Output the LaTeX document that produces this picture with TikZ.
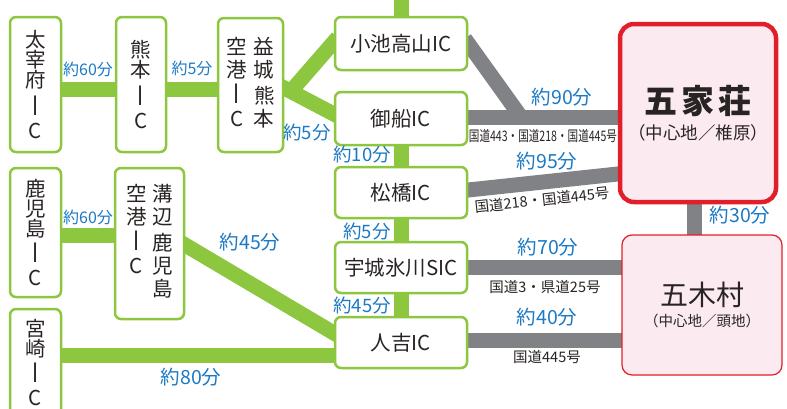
\documentclass[tikz,border=0pt]{standalone}
\usepackage{fontspec}
\usepackage{graphicx}
\setmainfont{Noto Sans CJK JP}
\usetikzlibrary{backgrounds}

\definecolor{icgreen}{RGB}{141,198,63}
\definecolor{roadgrey}{RGB}{128,130,133}
\definecolor{timeblue}{RGB}{28,121,196}
\definecolor{inktext}{RGB}{40,36,35}
\definecolor{destred}{RGB}{226,30,42}
\definecolor{destpink}{RGB}{252,234,241}

%% tall I for the vertical names
\newcommand{\tateI}{\scalebox{1}[1.3]{I}}

\tikzset{
  icbox/.style={draw=icgreen, line width=2.5pt, rounded corners=6pt, fill=white,
    text=inktext, inner sep=0pt, align=center, font=\fontsize{20.5}{20}\selectfont},
  greenroad/.style={icgreen, line width=15pt, shorten <=-6pt, shorten >=-6pt},
  greyroad/.style={roadgrey, line width=15pt, shorten <=-6pt, shorten >=-6pt},
  mins/.style={text=timeblue, inner sep=0pt, font=\fontsize{19.5}{21}\selectfont},
  minsmall/.style={mins, font=\fontsize{16}{18}\selectfont},
  minmid/.style={mins, font=\fontsize{18.5}{20}\selectfont},
  roadname/.style={text=inktext, inner sep=0pt, font=\fontsize{14.5}{16}\selectfont},
}

\begin{document}
\begin{tikzpicture}[x=1pt, y=-1pt]%% pixels, y down
    \useasboundingbox (0,0) rectangle (787,408);

        %% left hand IC boxes
        \node[icbox, minimum width=51pt, minimum height=135pt] (dazaifu) at (35.5,84.5)
            {太\\宰\\府\\[5pt]\tateI\\[3pt]C};
        \node[icbox, minimum width=50pt, minimum height=135pt] (kumamoto) at (141,84.5)
            {熊\\本\\[5pt]\tateI\\[3pt]C};
        \node[icbox, minimum width=65pt, minimum height=134pt] (kuko) at (250.5,85)
            {\begin{tabular}{@{}c@{\hspace{7pt}}c@{}}空&益\\港&城\\\tateI&熊\\C&本\end{tabular}};
        \node[icbox, minimum width=51pt, minimum height=129pt] (kagoshima) at (35.5,232.5)
            {鹿\\児\\島\\[4pt]\tateI\\[3pt]C};
        \node[icbox, minimum width=69pt, minimum height=151pt] (mizobe) at (149.5,243.5)
            {\begin{tabular}{@{}c@{\hspace{6pt}}c@{}}空&溝\\港&辺\\\tateI&鹿\\C&児\\&島\end{tabular}};
        \node[icbox, minimum width=51pt, minimum height=107pt] (miyazaki) at (35.5,362.5)
            {宮\\崎\\[4pt]\tateI\\[3pt]C};

        %% middle IC boxes
        \node[icbox, minimum width=132pt, minimum height=53pt] (koike) at (401,43.5) {小池高山IC};
        \node[icbox, minimum width=132pt, minimum height=53pt] (mifune) at (401,118.5) {御船IC};
        \node[icbox, minimum width=132pt, minimum height=51pt] (matsubase) at (401,192.5) {松橋IC};
        \node[icbox, minimum width=132pt, minimum height=51pt] (ukimihikawa) at (401,267.5) {宇城氷川SIC};
        \node[icbox, minimum width=132pt, minimum height=51pt] (hitoyoshi) at (401,342.5) {人吉IC};

        %% destinations
        \node[draw=destred, line width=4.5pt, fill=destpink, rounded corners=14pt,
              minimum width=156pt, minimum height=178pt, align=center, text=inktext] (gokasho) at (698,113)
            {{\fontsize{33}{36}\selectfont\bfseries\addfontfeature{LetterSpace=12}五家荘}\\[7pt]
             {\fontsize{17.5}{18}\selectfont （中心地／椎原）}};
        \node[draw=destred, line width=1.2pt, fill=destpink, rounded corners=10pt,
              minimum width=160pt, minimum height=140pt, align=center, text=inktext] (gokimura) at (702,305)
            {{\fontsize{28}{30}\selectfont 五木村}\\[5pt]
             {\fontsize{14.5}{16}\selectfont （中心地／頭地）}};

        \coordinate (jct) at (292,90);
        \coordinate (jctB) at (521,117);
        \coordinate (north) at (401,-6);

    \begin{scope}[on background layer]
        %% green roads
        \draw[greenroad] (dazaifu.east |- 0,89) to (kumamoto.west |- 0,89);
        \draw[greenroad] (kumamoto.east |- 0,89) to (kuko.west |- 0,89);
        \draw[greenroad] (kuko.east |- 0,88) to (mifune.west |- 0,114);
        \draw[greenroad, shorten <=0pt] (jct) to (koike.west |- 0,42);
        \draw[greenroad] (koike.north) to (north);
        \draw[greenroad] (mifune.south) to (matsubase.north);
        \draw[greenroad] (matsubase.south) to (ukimihikawa.north);
        \draw[greenroad] (ukimihikawa.south) to (hitoyoshi.north);
        \draw[greenroad] (kagoshima.east |- 0,235) to (mizobe.west |- 0,235);
        \draw[greenroad] (mizobe.east |- 0,245) to (hitoyoshi.west |- 0,333);
        \draw[greenroad] (miyazaki.east |- 0,355) to (hitoyoshi.west |- 0,355);

        %% grey roads
        \draw[greyroad] (mifune.east |- 0,117) to (gokasho.west |- 0,117);
        \draw[greyroad, shorten >=0pt] (koike.east) to (jctB);
        \draw[greyroad] (matsubase.east |- 0,190) to (gokasho.west |- 0,174);
        \draw[greyroad] (ukimihikawa.east) to (gokimura.west |- ukimihikawa.east);
        \draw[greyroad] (hitoyoshi.east |- 0,340) to (gokimura.west |- 0,340);
        \draw[greyroad] (gokasho.south -| 694,0) to (gokimura.north -| 694,0);
    \end{scope}

        %% times
        \node[minsmall] (t1) at (88,69) {約60分};
        \node[minsmall] (t2) at (192,68) {約5分};
        \node[minmid] (t3) at (307,133) {約5分};
        \node[minmid] (t4) at (362,155) {約10分};
        \node[minmid] (t5) at (367,232) {約5分};
        \node[minmid] (t6) at (362,305) {約45分};
        \node[mins] (t7) at (562,97) {約90分};
        \node[mins] (t8) at (547,161) {約95分};
        \node[mins] (t9) at (548,247) {約70分};
        \node[mins] (t10) at (547,317) {約40分};
        \node[mins] (t11) at (740,215) {約30分};
        \node[minsmall] (t12) at (88,217) {約60分};
        \node[mins] (t13) at (250,242) {約45分};
        \node[mins] (t14) at (191,377) {約80分};

        %% route numbers
        \node[roadname] (r1) at (543,136) {\scalebox{0.73}[1]{国道443・国道218・国道445号}};
        \node[roadname, rotate=6] (r2) at (542,200) {国道218・国道445号};
        \node[roadname] (r3) at (545,287) {国道3・県道25号};
        \node[roadname] (r4) at (547,357) {国道445号};

\end{tikzpicture}
\end{document}
